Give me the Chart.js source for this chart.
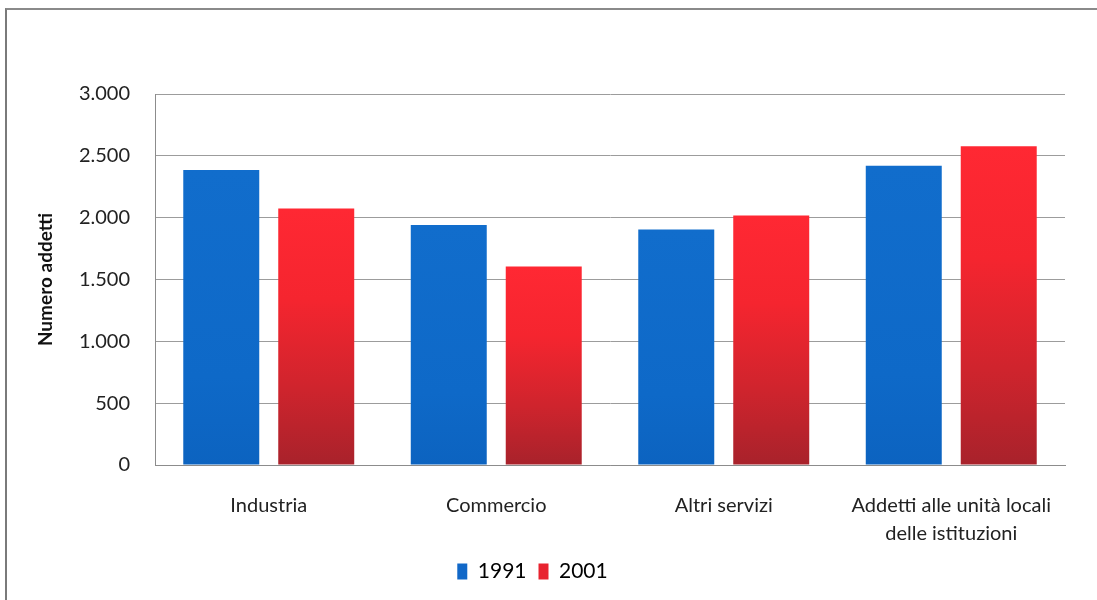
<!DOCTYPE html>
<html lang="it">
<head>
<meta charset="utf-8">
<title>Numero addetti 1991 - 2001</title>
<script src="https://cdn.jsdelivr.net/npm/chart.js@4.4.1/dist/chart.umd.min.js"></script>
<style>
  html, body { margin: 0; padding: 0; background: #fff; }
  #wrap { position: relative; width: 1097px; height: 600px; overflow: hidden; }
  #frame {
    position: absolute; left: 5px; top: 8px; width: 1100px; height: 600px;
    border-left: 2px solid #7a7a7a; border-top: 2px solid #8a8a8a;
    pointer-events: none;
  }
  canvas { position: absolute; left: 0; top: 0; }
</style>
</head>
<body>
<div id="wrap">
  <canvas id="chart" width="1097" height="600"></canvas>
  <div id="frame"></div>
</div>
<script>
const categories = [
  'Industria',
  'Commercio',
  'Altri servizi',
  ['Addetti alle unità locali', 'delle istituzioni']
];
const addetti1991 = [2385, 1940, 1905, 2420];
const addetti2001 = [2075, 1605, 2018, 2578];
const yMax = 3000;
const yStep = 500;

const FONT = 'Lato, "Open Sans", sans-serif';

// thousands with a dot, as in "2.500"
function fmt(v) {
  return String(v).replace(/\B(?=(\d{3})+(?!\d))/g, '.');
}

// vertical gradient running from each bar's top down to the zero line
function barFill(stops) {
  return (c) => {
    const chart = c.chart;
    if (!chart.chartArea || c.type !== 'data') return stops[0][1];
    const y = chart.scales.y;
    const yTop = y.getPixelForValue(c.raw);
    const yBase = y.getPixelForValue(0);
    if (!isFinite(yTop) || yBase - yTop < 1) return stops[0][1];
    const g = chart.ctx.createLinearGradient(0, yTop, 0, yBase);
    stops.forEach(([p, col]) => g.addColorStop(p, col));
    return g;
  };
}

const blueStops = [[0, '#116dcc'], [0.7, '#0e69c8'], [1, '#0c63c0']];
const redStops = [[0, '#ff2833'], [0.35, '#f5252f'], [0.7, '#cf242d'], [1, '#a8222b']];

const ctx = document.getElementById('chart').getContext('2d');
new Chart(ctx, {
  type: 'bar',
  data: {
    labels: categories,
    datasets: [
      {
        label: '1991',
        data: addetti1991,
        backgroundColor: barFill(blueStops),
        borderWidth: 0,
        categoryPercentage: 0.835,
        barPercentage: 0.8
      },
      {
        label: '2001',
        data: addetti2001,
        backgroundColor: barFill(redStops),
        borderWidth: 0,
        categoryPercentage: 0.835,
        barPercentage: 0.8
      }
    ]
  },
  options: {
    responsive: false,
    animation: false,
    layout: { padding: { left: 0, right: 32, top: 94, bottom: 8 } },
    plugins: {
      tooltip: { enabled: false },
      legend: {
        position: 'bottom',
        labels: {
          color: '#222',
          font: { family: FONT, size: 21 },
          boxWidth: 10,
          boxHeight: 16,
          padding: 12,
          generateLabels: (chart) => chart.data.datasets.map((ds, i) => ({
            text: ds.label,
            fillStyle: i === 0 ? '#1168c8' : '#e8232f',
            strokeStyle: 'transparent',
            lineWidth: 0,
            datasetIndex: i
          }))
        }
      }
    },
    scales: {
      x: {
        grid: { display: false },
        border: { display: true, color: '#8c8c8c', width: 1 },
        ticks: {
          color: '#222',
          font: { family: FONT, size: 20, lineHeight: 1.4 },
          padding: 19,
          maxRotation: 0,
          autoSkip: false
        },
        afterFit: (s) => { s.height = 84; }
      },
      y: {
        min: 0,
        max: yMax,
        grid: { color: '#9c9c9c', lineWidth: 1, drawTicks: false },
        border: { display: true, color: '#8c8c8c', width: 1 },
        ticks: {
          stepSize: yStep,
          color: '#222',
          font: { family: FONT, size: 20 },
          padding: 25,
          callback: (v) => fmt(v)
        },
        title: {
          display: true,
          text: 'Numero addetti',
          color: '#111',
          font: { family: FONT, size: 19, weight: 'bold' },
          padding: { top: 34, bottom: 0 }
        },
        afterFit: (s) => { s.width = 155; }
      }
    }
  }
});
</script>
</body>
</html>
